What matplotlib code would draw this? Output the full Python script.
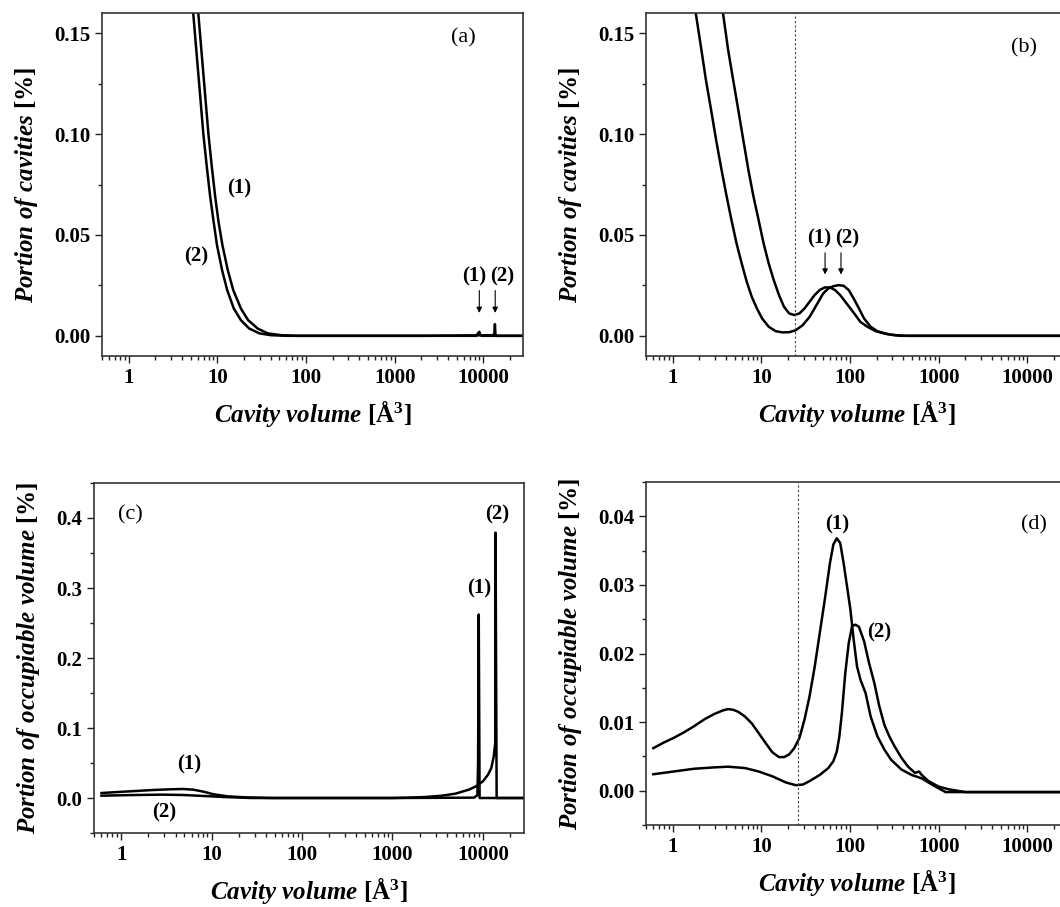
import matplotlib
matplotlib.use('Agg')
import matplotlib.pyplot as plt
from matplotlib.ticker import LogLocator, NullFormatter, MultipleLocator

plt.rcParams['font.family'] = ['Liberation Serif', 'DejaVu Serif']
plt.rcParams['font.weight'] = 'bold'
plt.rcParams['mathtext.fontset'] = 'custom'
plt.rcParams['mathtext.rm'] = 'Liberation Serif:bold'
plt.rcParams['mathtext.it'] = 'Liberation Serif:bold:italic'
plt.rcParams['mathtext.bf'] = 'Liberation Serif:bold'

# panel (a): portion of cavities
a1_x = [6.09, 6.65, 7.26, 7.93, 8.66, 9.45, 10.3, 11.4, 13.1, 15.1, 18.4, 22.2, 28.5, 37.1, 52.8, 82,
        1000, 8300, 8800, 9000, 9200, 9600, 28000]
a1_y = [0.160, 0.140, 0.120, 0.100, 0.0838, 0.069, 0.0566, 0.045, 0.0326, 0.0227, 0.0136, 0.0078, 0.0036, 0.0012, 0.0003, 0.0,
        0.0, 0.0, 0.0015, 0.002, 0.0005, 0.0, 0.0]
a2_x = [5.34, 5.83, 6.37, 6.95, 7.6, 8.3, 9.07, 9.9, 11.3, 12.9, 15.3, 18.4, 22.9, 29.8, 40.5, 63,
        2000, 12800, 13300, 13500, 13700, 14000, 28000]
a2_y = [0.160, 0.140, 0.120, 0.100, 0.0838, 0.069, 0.0566, 0.045, 0.0326, 0.0227, 0.0136, 0.0078, 0.0036, 0.0012, 0.0003, 0.0,
        0.0, 0.0003, 0.001, 0.0058, 0.0005, 0.0, 0.0]

# panel (b): portion of cavities
b1_x = [3.69, 4.22, 4.81, 5.49, 6.26, 7.14, 8.15, 9.31, 10.6, 12.1, 13.8, 15.8, 18.0, 20.6, 23.5, 26.9, 30.7,
        35.0, 39.9, 45.5, 52.0, 59.4, 67.8, 77.4, 88.4, 101, 115, 131, 157, 195, 243, 317, 450, 30000]
b1_y = [0.160, 0.1417, 0.1268, 0.112, 0.097, 0.0822, 0.069, 0.0574, 0.0458, 0.0359, 0.0276, 0.0202, 0.0144, 0.0111, 0.0103, 0.0111, 0.0136,
        0.0169, 0.0202, 0.0227, 0.0240, 0.0240, 0.0227, 0.0202, 0.0169, 0.0136, 0.0103, 0.0069, 0.0045, 0.0023, 0.0012, 0.0003, 0.0, 0.0]
b2_x = [1.82, 2.08, 2.37, 2.71, 3.09, 3.53, 4.03, 4.60, 5.25, 6.0, 6.84, 7.8, 8.9, 10.2, 12.1, 14.5, 17.3, 20.6,
        24.5, 29.3, 35.0, 41.8, 49.8, 56.9, 64.9, 74.1, 84.6, 96.6, 110, 126, 144, 171, 203, 265, 380, 30000]
b2_y = [0.160, 0.1434, 0.1268, 0.112, 0.097, 0.083, 0.0698, 0.0574, 0.0458, 0.0359, 0.0268, 0.0193, 0.0136, 0.0086, 0.0045, 0.0023, 0.0017, 0.0018,
        0.0028, 0.0053, 0.0094, 0.0152, 0.021, 0.0235, 0.0246, 0.0251, 0.0248, 0.0227, 0.0185, 0.0136, 0.0086, 0.0045, 0.0023, 0.0008, 0.0, 0.0]

# panel (c): portion of occupiable volume
c1_x = [0.605, 0.93, 1.44, 2.22, 3.43, 4.84, 6.28, 8.15, 10.6, 15.0, 23.1, 46, 1000, 8000, 8700, 8850, 9000, 9200, 28500]
c1_y = [0.0071, 0.0086, 0.0100, 0.0114, 0.0124, 0.0129, 0.0119, 0.0090, 0.0052, 0.0024, 0.0010, 0.0, 0.0, 0.0005, 0.004, 0.05, 0.262, 0.0, 0.0]
c2_x = [0.605, 1.44, 2.88, 4.84, 8.15, 13.7, 27.4, 1000, 1480, 2290, 3530, 4970, 7000, 8400, 10000, 11400, 12400, 13200,
        13700, 13800, 14200, 28500]
c2_y = [0.0033, 0.0043, 0.0048, 0.0043, 0.0029, 0.0014, 0.0, 0.0, 0.0005, 0.0014, 0.0033, 0.0062, 0.0119, 0.0167, 0.0238, 0.0333, 0.043, 0.0595,
        0.0786, 0.379, 0.0, 0.0]

# panel (d): portion of occupiable volume
d1_x = [0.605, 0.788, 1.027, 1.337, 1.743, 2.272, 2.96, 3.69, 4.21, 4.81, 5.49, 6.55, 7.81, 9.32, 11.1, 13.3, 15.8, 18.1,
        20.6, 23.5, 26.9, 30.7, 35.0, 40.0, 45.6, 52.0, 59.4, 64.9, 70.9, 77.5, 84.6, 92.5, 101, 110, 120, 131, 150,
        171, 204, 244, 291, 379, 494, 643, 837, 1193, 30000]
d1_y = [0.0062, 0.0070, 0.0077, 0.0085, 0.0094, 0.0104, 0.0112, 0.0117, 0.0119, 0.0118, 0.0115, 0.0108, 0.0098, 0.0084, 0.0070, 0.0056, 0.0049, 0.0049,
        0.0053, 0.0062, 0.0077, 0.0104, 0.0138, 0.0181, 0.0230, 0.0279, 0.0332, 0.0359, 0.0368, 0.0361, 0.0332, 0.0298, 0.0264, 0.0220, 0.0181, 0.0162, 0.0142,
        0.0108, 0.0079, 0.0060, 0.0045, 0.0031, 0.0023, 0.0018, 0.0009, -0.0002, -0.0002]
d2_x = [0.605, 1.027, 1.743, 2.96, 4.21, 6.55, 9.32, 13.3, 18.9, 24.5, 29.4, 35.0, 45.6, 56.9, 64.9, 70.9, 75.8, 80.9,
        88.5, 96.7, 105.5, 115, 126, 144, 164, 188, 214, 244, 278, 317, 380, 452, 539, 600, 644, 765, 1000, 1300, 2000, 30000]
d2_y = [0.0024, 0.0028, 0.0032, 0.0034, 0.0035, 0.0033, 0.0028, 0.0021, 0.0012, 0.0008, 0.0009, 0.0014, 0.0023, 0.0033, 0.0043, 0.0057, 0.0079, 0.0113,
        0.0172, 0.0215, 0.0240, 0.0242, 0.0239, 0.0218, 0.0186, 0.0157, 0.0123, 0.0096, 0.0079, 0.0065, 0.0048, 0.0035, 0.0026, 0.0028, 0.0023, 0.0014, 0.0006, 0.0002, -0.0002, -0.0002]

x_ticks = [1, 10, 100, 1000, 10000]
x_labels = ['1', '10', '100', '1000', '10000']

xlabel = r'$\mathit{Cavity\ volume}\ [\mathrm{\AA}^{3}]$'
ylabel_cav = r'$\mathit{Portion\ of\ cavities}$ [%]'
ylabel_occ = r'$\mathit{Portion\ of\ occupiable\ volume}$ [%]'

W, H = 1060, 907
fig = plt.figure(figsize=(W / 100, H / 100), dpi=100)


def make_axes(left, top, right, bottom):
    return fig.add_axes([left / W, 1 - bottom / H, (right - left) / W, (bottom - top) / H])


def style(ax, xlim, ylim, yticks, yfmt, yminor, ylab):
    ax.set_xscale('log')
    ax.set_xlim(*xlim)
    ax.set_ylim(*ylim)
    ax.set_xticks(x_ticks)
    ax.set_xticklabels(x_labels)
    ax.xaxis.set_minor_locator(LogLocator(base=10, subs=range(2, 10), numticks=20))
    ax.xaxis.set_minor_formatter(NullFormatter())
    ax.set_yticks(yticks)
    ax.set_yticklabels([yfmt % v for v in yticks])
    ax.yaxis.set_minor_locator(MultipleLocator(yminor))
    ax.tick_params(which='both', direction='out', top=False, right=False, width=1, colors='#222222',
                   labelcolor='black', labelsize=15)
    ax.tick_params(which='major', length=5)
    ax.tick_params(which='minor', length=3)
    for s in ax.spines.values():
        s.set_linewidth(1.2)
        s.set_color('#333333')
    ax.set_xlabel(xlabel, fontsize=18, labelpad=7)
    ax.set_ylabel(ylab, fontsize=18, fontweight='bold', labelpad=10)


lw = 1.8

ax_a = make_axes(102, 13, 523, 356)
ax_a.plot(a1_x, a1_y, color='black', lw=lw)
ax_a.plot(a2_x, a2_y, color='black', lw=lw)
style(ax_a, (0.5, 28000), (-0.01, 0.16), [0.0, 0.05, 0.10, 0.15], '%.2f', 0.025, ylabel_cav)
ax_a.text(5900, 0.1475, '(a)', fontsize=16, fontweight='normal', ha='center', va='center')
ax_a.text(17.7, 0.0731, '(1)', fontsize=15, ha='center', va='center')
ax_a.text(5.83, 0.0392, '(2)', fontsize=15, ha='center', va='center')
ax_a.text(7890, 0.0296, '(1)', fontsize=15, ha='center', va='center')
ax_a.text(16200, 0.0296, '(2)', fontsize=15, ha='center', va='center')
for xa in (9000, 13600):
    ax_a.annotate('', xy=(xa, 0.0100), xytext=(xa, 0.0238),
                  arrowprops=dict(arrowstyle='-|>', color='black', lw=0.8, mutation_scale=8))

ax_b = make_axes(646, 13, 1067, 356)
ax_b.plot(b1_x, b1_y, color='black', lw=lw)
ax_b.plot(b2_x, b2_y, color='black', lw=lw)
ax_b.axvline(24, color='#444444', lw=0.8, ls=(0, (2, 2)))
style(ax_b, (0.5, 28000), (-0.01, 0.16), [0.0, 0.05, 0.10, 0.15], '%.2f', 0.025, ylabel_cav)
ax_b.text(9150, 0.1426, '(b)', fontsize=16, fontweight='normal', ha='center', va='center')
ax_b.text(44.6, 0.0483, '(1)', fontsize=15, ha='center', va='center')
ax_b.text(92.7, 0.0483, '(2)', fontsize=15, ha='center', va='center')
for xb in (52.3, 79.1):
    ax_b.annotate('', xy=(xb, 0.0290), xytext=(xb, 0.0425),
                  arrowprops=dict(arrowstyle='-|>', color='black', lw=0.8, mutation_scale=8))

ax_c = make_axes(94, 483, 524, 833)
ax_c.plot(c1_x, c1_y, color='black', lw=lw)
ax_c.plot(c2_x, c2_y, color='black', lw=lw)
style(ax_c, (0.5, 28500), (-0.05, 0.45), [0.0, 0.1, 0.2, 0.3, 0.4], '%.1f', 0.05, ylabel_occ)
ax_c.text(1.26, 0.405, '(c)', fontsize=16, fontweight='normal', ha='center', va='center')
ax_c.text(14400, 0.405, '(2)', fontsize=15, ha='center', va='center')
ax_c.text(9170, 0.30, '(1)', fontsize=15, ha='center', va='center')
ax_c.text(5.6, 0.0476, '(1)', fontsize=15, ha='center', va='center')
ax_c.text(3.0, -0.0214, '(2)', fontsize=15, ha='center', va='center')

ax_d = make_axes(646, 482, 1067, 825)
ax_d.plot(d1_x, d1_y, color='black', lw=lw)
ax_d.plot(d2_x, d2_y, color='black', lw=lw)
ax_d.axvline(26, color='#444444', lw=0.8, ls=(0, (2, 2)))
style(ax_d, (0.5, 28000), (-0.005, 0.045), [0.0, 0.01, 0.02, 0.03, 0.04], '%.2f', 0.005, ylabel_occ)
ax_d.text(11800, 0.0388, '(d)', fontsize=16, fontweight='normal', ha='center', va='center')
ax_d.text(71, 0.0388, '(1)', fontsize=15, ha='center', va='center')
ax_d.text(213, 0.0230, '(2)', fontsize=15, ha='center', va='center')

fig.savefig('out.png', dpi=100)
